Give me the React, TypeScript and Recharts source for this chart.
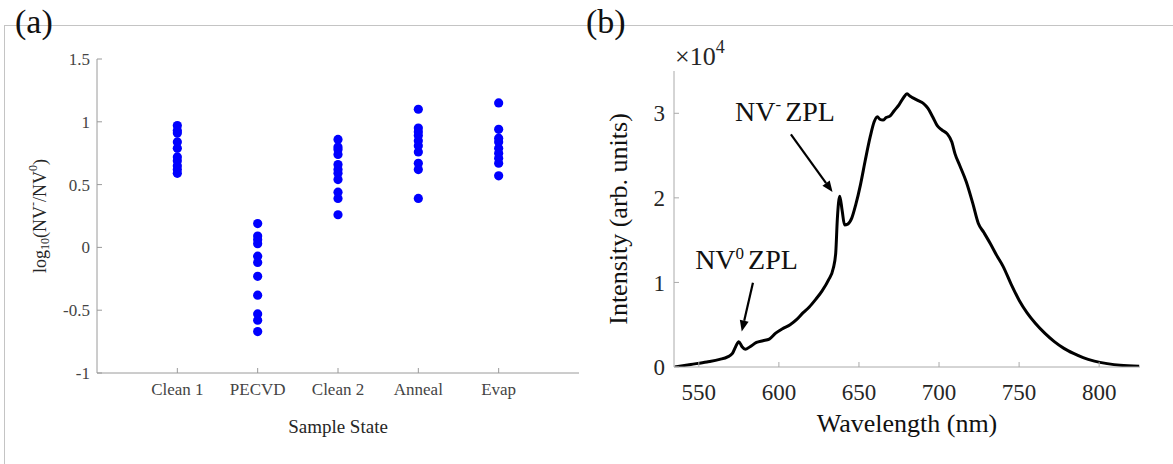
import React from "react";
import {
  ScatterChart,
  Scatter,
  LineChart,
  Line,
  XAxis,
  YAxis,
  ReferenceLine,
  ReferenceDot,
} from "recharts";

const FONT = "'Liberation Serif', 'Times New Roman', serif";

// panel (a): log10(NV-/NV0) per sample state
const SAMPLE_STATES = ["Clean 1", "PECVD", "Clean 2", "Anneal", "Evap"];
const CLEAN1 = [0.97, 0.93, 0.91, 0.84, 0.79, 0.72, 0.69, 0.65, 0.62, 0.59];
const PECVD = [0.19, 0.09, 0.06, 0.03, -0.07, -0.12, -0.23, -0.38, -0.53, -0.58, -0.67];
const CLEAN2 = [0.86, 0.8, 0.78, 0.74, 0.66, 0.62, 0.59, 0.54, 0.44, 0.39, 0.26];
const ANNEAL = [1.1, 0.95, 0.92, 0.89, 0.85, 0.81, 0.76, 0.67, 0.62, 0.39];
const EVAP = [1.15, 0.94, 0.87, 0.84, 0.79, 0.75, 0.71, 0.67, 0.57];
const RATIO_TICKS = [-1, -0.5, 0, 0.5, 1, 1.5];

// panel (b): PL spectrum, intensity in units of 10^4
const WAVELENGTH = [
  535, 545, 555, 563, 568, 571, 573, 575, 577, 579, 582, 586, 590, 594, 598, 602,
  607, 611, 615, 619, 623, 627, 631, 634, 635.5, 636.5, 638, 639.5, 641, 643,
  645.5, 648, 651, 654, 657, 659.5, 661.5, 663, 665, 667, 669.5, 672, 675, 678,
  680, 682, 684, 687, 690, 693, 696, 699, 702, 705, 708, 710, 713, 717, 721,
  724.5, 728, 732, 736, 740, 745, 750, 755, 760, 766, 772, 778, 784, 790, 797,
  805, 813, 825,
];
const INTENSITY = [
  0.0, 0.03, 0.06, 0.09, 0.12, 0.16, 0.24, 0.3, 0.24, 0.21, 0.24, 0.29, 0.31, 0.33,
  0.4, 0.45, 0.5, 0.56, 0.64, 0.71, 0.8, 0.9, 1.03, 1.17, 1.35, 1.75, 2.02, 1.85,
  1.68, 1.69, 1.76, 1.92, 2.16, 2.45, 2.72, 2.9, 2.96, 2.93, 2.92, 2.95, 2.97,
  3.03, 3.1, 3.19, 3.23, 3.2, 3.18, 3.15, 3.12, 3.06, 2.96, 2.85, 2.8, 2.76, 2.66,
  2.52, 2.38, 2.19, 1.94, 1.7, 1.59, 1.46, 1.32, 1.19, 0.98, 0.79, 0.64, 0.52,
  0.4, 0.3, 0.22, 0.16, 0.11, 0.07, 0.04, 0.02, 0.01,
];
const WL_TICKS = [550, 600, 650, 700, 750, 800];
const INT_TICKS = [0, 1, 2, 3];

const scatterData = [CLEAN1, PECVD, CLEAN2, ANNEAL, EVAP].flatMap((vals, i) =>
  vals.map((v) => ({ x: i + 1, y: v }))
);
const spectrum = WAVELENGTH.map((nm, i) => ({ nm, y: INTENSITY[i] }));

const Arrow = (p: any) => {
  const { x1, y1, x2, y2 } = p;
  const a = Math.atan2(y2 - y1, x2 - x1);
  const L = 11;
  const W = 4.5;
  const bx = x2 - L * Math.cos(a);
  const by = y2 - L * Math.sin(a);
  const pts = `${x2},${y2} ${bx + W * Math.sin(a)},${by - W * Math.cos(a)} ${
    bx - W * Math.sin(a)
  },${by + W * Math.cos(a)}`;
  return (
    <g>
      <line x1={x1} y1={y1} x2={bx} y2={by} stroke="#000" strokeWidth={2.2} />
      <polygon points={pts} fill="#000" />
    </g>
  );
};

const zplLabel = (sup: string, shift: number) => (p: any) => (
  <text x={p.cx} y={p.cy} fontFamily={FONT} fontSize={28} fill="#111">
    NV
    <tspan fontSize={17} dy={-shift}>
      {sup}
    </tspan>
    <tspan dy={shift} dx={4}>
      ZPL
    </tspan>
  </text>
);

export default function App() {
  return (
    <div
      style={{
        position: "absolute",
        left: 0,
        top: 0,
        width: 1173,
        height: 464,
        background: "#fff",
        fontFamily: FONT,
        overflow: "hidden",
      }}
    >
      {/* frame */}
      <div
        style={{
          position: "absolute",
          left: 4,
          top: 25,
          width: 1169,
          height: 439,
          borderTop: "1px solid #c4c4c4",
          borderLeft: "1px solid #c4c4c4",
        }}
      />
      <div style={{ position: "absolute", left: 15, top: 2, fontSize: 34, lineHeight: "40px", color: "#111" }}>
        (a)
      </div>
      <div style={{ position: "absolute", left: 586, top: 2, fontSize: 34, lineHeight: "40px", color: "#111" }}>
        (b)
      </div>

      {/* (a) */}
      <div style={{ position: "absolute", left: 0, top: 0 }}>
        <ScatterChart width={600} height={464} margin={{ top: 59, right: 21, bottom: 31, left: 0 }} style={{ fontFamily: FONT }}>
          <XAxis
            xAxisId="b"
            type="number"
            dataKey="x"
            domain={[0, 6]}
            ticks={[1, 2, 3, 4, 5]}
            tickFormatter={(v) => SAMPLE_STATES[v - 1]}
            height={60}
            stroke="#9a9a9a"
            tickSize={-5}
            tickMargin={15}
            tick={{ fill: "#444", fontSize: 17, fontFamily: FONT }}
            label={(p: any) => {
              const vb = p.viewBox;
              return (
                <text x={vb.x + vb.width / 2} y={vb.y + 60} textAnchor="middle" fontFamily={FONT} fontSize={19} fill="#262626">
                  Sample State
                </text>
              );
            }}
          />
          <XAxis
            xAxisId="t"
            orientation="top"
            type="number"
            dataKey="x"
            domain={[0, 6]}
            ticks={[1, 2, 3, 4, 5]}
            height={0}
            stroke="#9a9a9a"
            tickSize={-5}
            tick={false}
          />
          <YAxis
            yAxisId="l"
            type="number"
            dataKey="y"
            domain={[-1, 1.5]}
            ticks={RATIO_TICKS}
            width={97}
            stroke="#9a9a9a"
            tickSize={-5}
            tickMargin={12}
            tick={{ fill: "#444", fontSize: 17, fontFamily: FONT }}
            label={(p: any) => {
              const vb = p.viewBox;
              const cx = vb.x + 40;
              const cy = vb.y + vb.height / 2;
              return (
                <text
                  transform={`translate(${cx},${cy}) rotate(-90)`}
                  textAnchor="middle"
                  dominantBaseline="central"
                  fontFamily={FONT}
                  fontSize={18}
                  fill="#262626"
                >
                  log
                  <tspan fontSize={12} dy={5}>10</tspan>
                  <tspan dy={-5}>(NV</tspan>
                  <tspan fontSize={12} dy={-7}>-</tspan>
                  <tspan dy={7}>/NV</tspan>
                  <tspan fontSize={12} dy={-7}>0</tspan>
                  <tspan dy={7}>)</tspan>
                </text>
              );
            }}
          />
          <YAxis
            yAxisId="r"
            orientation="right"
            type="number"
            dataKey="y"
            domain={[-1, 1.5]}
            ticks={RATIO_TICKS}
            width={0}
            stroke="#9a9a9a"
            tickSize={-5}
            tick={false}
          />
          <Scatter
            xAxisId="t"
            yAxisId="r"
            data={scatterData}
            shape={() => <g />}
            isAnimationActive={false}
          />
          <Scatter
            xAxisId="b"
            yAxisId="l"
            data={scatterData}
            isAnimationActive={false}
            shape={(p: any) => <circle cx={p.cx} cy={p.cy} r={4.6} fill="#0000ff" />}
          />
        </ScatterChart>
      </div>

      {/* (b) */}
      <div style={{ position: "absolute", left: 580, top: 0 }}>
        <LineChart width={593} height={464} data={spectrum} margin={{ top: 71, right: 33, bottom: 37, left: 0 }} style={{ fontFamily: FONT }}>
          <XAxis
            type="number"
            dataKey="nm"
            domain={[534.5, 825.5]}
            ticks={WL_TICKS}
            allowDataOverflow
            height={60}
            stroke="#aaa"
            tickSize={-5}
            tickMargin={22}
            tick={{ fill: "#262626", fontSize: 23, fontFamily: FONT }}
            label={(p: any) => {
              const vb = p.viewBox;
              return (
                <text x={vb.x + vb.width / 2} y={vb.y + 65} textAnchor="middle" fontFamily={FONT} fontSize={26} fill="#111">
                  Wavelength (nm)
                </text>
              );
            }}
          />
          <YAxis
            type="number"
            domain={[0, 3.5]}
            ticks={INT_TICKS}
            allowDataOverflow
            width={94}
            stroke="#aaa"
            tickSize={-5}
            tickMargin={14}
            tick={{ fill: "#262626", fontSize: 23, fontFamily: FONT }}
            label={(p: any) => {
              const vb = p.viewBox;
              const cx = vb.x + 38;
              const cy = vb.y + vb.height / 2;
              return (
                <g>
                  <text
                    transform={`translate(${cx},${cy}) rotate(-90)`}
                    textAnchor="middle"
                    dominantBaseline="central"
                    fontFamily={FONT}
                    fontSize={26}
                    fill="#111"
                  >
                    Intensity (arb. units)
                  </text>
                  <text x={vb.x + vb.width + 1} y={vb.y - 6} fontFamily={FONT} fontSize={26} fill="#262626">
                    ×10
                    <tspan fontSize={18} dy={-12}>4</tspan>
                  </text>
                </g>
              );
            }}
          />
          <Line
            type="monotone"
            dataKey="y"
            stroke="#000"
            strokeWidth={3}
            dot={false}
            isAnimationActive={false}
          />
          <ReferenceLine
            segment={[
              { x: 607.5, y: 2.75 },
              { x: 633.5, y: 2.07 },
            ]}
            shape={Arrow}
          />
          <ReferenceLine
            segment={[
              { x: 583.8, y: 0.995 },
              { x: 576.8, y: 0.42 },
            ]}
            shape={Arrow}
          />
          <ReferenceDot x={572.6} y={2.91} r={0} shape={zplLabel("-", 11)} />
          <ReferenceDot x={547.7} y={1.16} r={0} shape={zplLabel("0", 10)} />
        </LineChart>
      </div>
    </div>
  );
}
